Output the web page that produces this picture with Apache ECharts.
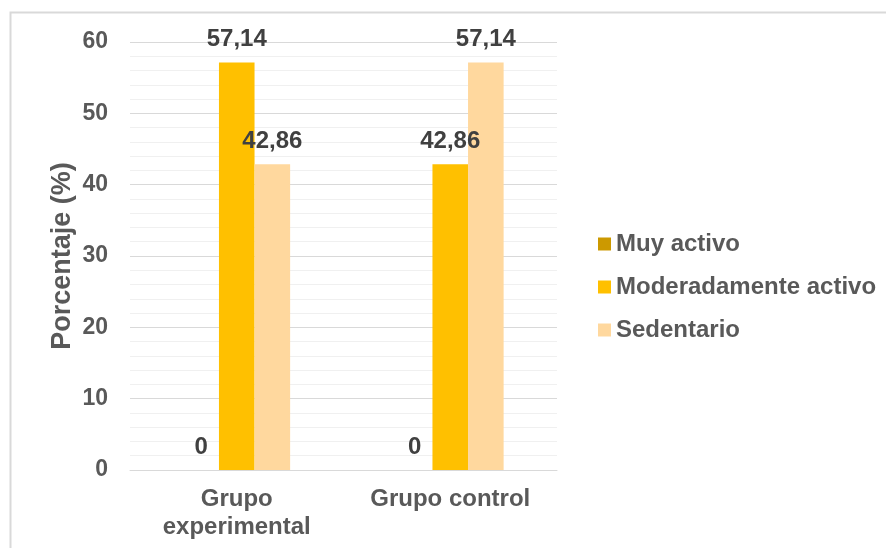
<!DOCTYPE html>
<html>
<head>
<meta charset="utf-8">
<script src="https://cdn.jsdelivr.net/npm/echarts@6/dist/echarts.min.js"></script>
<style>
  html, body { margin: 0; padding: 0; background: #fff; }
  #chart { width: 887px; height: 548px; }
</style>
</head>
<body>
<div id="chart"></div>
<script>
// Activity level by group (percent)
const categories = ['Grupo\nexperimental', 'Grupo control'];
const seriesNames = ['Muy activo', 'Moderadamente activo', 'Sedentario'];
const muyActivo = [0, 0];
const moderadamenteActivo = [57.14, 42.86];
const sedentario = [42.86, 57.14];
const yTicks = { min: 0, max: 60, interval: 10 };

const colors = ['#CC9900', '#FFC000', '#FFD89E'];
const values = [muyActivo, moderadamenteActivo, sedentario];

const fmt = v => String(v).replace('.', ',');

const chart = echarts.init(document.getElementById('chart'), null, { renderer: 'canvas' });

chart.setOption({
  animation: false,
  backgroundColor: '#ffffff',
  textStyle: { fontFamily: '"Liberation Sans", Arial, sans-serif' },
  graphic: [
    {
      type: 'polyline',
      shape: { points: [[10.5, 548], [10.5, 12.5], [886, 12.5]] },
      style: { stroke: '#D9D9D9', lineWidth: 2, fill: null },
      silent: true
    }
  ],
  grid: { left: 130, right: 330, top: 42, bottom: 78 },
  legend: {
    orient: 'vertical',
    left: 593,
    top: 227,
    itemWidth: 13,
    itemHeight: 13,
    itemGap: 19,
    icon: 'rect',
    textStyle: { fontSize: 24, lineHeight: 24, fontWeight: 'bold', color: '#595959' },
    data: seriesNames
  },
  xAxis: {
    type: 'category',
    data: categories,
    axisLine: { show: true, lineStyle: { color: '#D9D9D9', width: 1 } },
    axisTick: { show: false },
    axisLabel: {
      fontSize: 24, fontWeight: 'bold', color: '#595959',
      margin: 15, lineHeight: 28, interval: 0
    }
  },
  yAxis: {
    type: 'value',
    min: yTicks.min,
    max: yTicks.max,
    interval: yTicks.interval,
    name: 'Porcentaje (%)',
    nameLocation: 'middle',
    nameGap: 54,
    nameRotate: 90,
    nameTextStyle: { fontSize: 27, fontWeight: 'bold', color: '#595959' },
    axisLine: { show: false },
    axisTick: { show: false },
    axisLabel: { fontSize: 23, fontWeight: 'bold', color: '#595959', margin: 22 },
    splitLine: { lineStyle: { color: '#D9D9D9', width: 1 } },
    minorTick: { show: false, splitNumber: 5 },
    minorSplitLine: { show: true, lineStyle: { color: '#F0F0F0', width: 1 } }
  },
  series: seriesNames.map((name, i) => ({
    name: name,
    type: 'bar',
    data: values[i],
    barGap: '0%',
    barCategoryGap: '50%',
    itemStyle: { color: colors[i] },
    label: {
      show: true,
      position: 'top',
      distance: 11,
      fontSize: 24,
      fontWeight: 'bold',
      color: '#404040',
      formatter: p => fmt(p.value)
    }
  }))
});
</script>
</body>
</html>
